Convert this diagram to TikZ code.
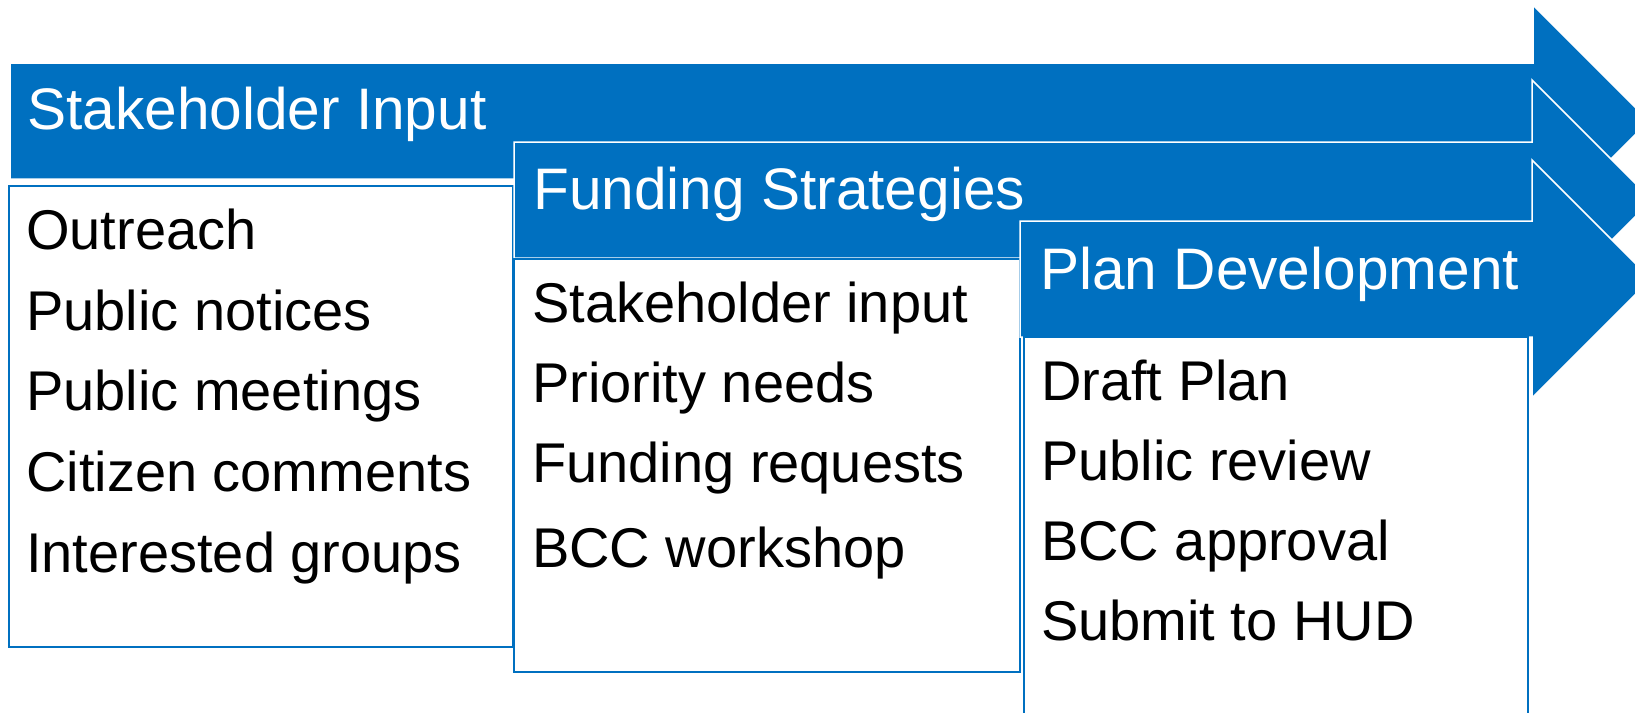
\documentclass[tikz,border=0pt]{standalone}
\usepackage{fontspec}
\setmainfont{Liberation Sans}
\definecolor{pblue}{RGB}{0,112,192}
\tikzset{
  arrowshape/.style={fill=pblue, draw=white, line width=1.5},
  bodybox/.style={fill=white, draw=pblue, line width=2},
  titletext/.style={anchor=base west, inner sep=0, text=white, font=\fontsize{58.6}{70}\selectfont},
  bodytext/.style={anchor=base west, inner sep=0, text=black, font=\fontsize{56}{66}\selectfont}
}
\begin{document}
\begin{tikzpicture}[x=1pt,y=-1pt]
\useasboundingbox (0,0) rectangle (1635,712);
\clip (0,0) rectangle (1635,712);
% stage 1
\draw[arrowshape] (10,63) -- (1533,63) -- (1533,5) -- (1649,121) -- (1533,237) -- (1533,179) -- (10,179) -- cycle;
\draw[bodybox] (9,186) rectangle (513,647);
\node[titletext] (t1) at (27,129) {Stakeholder Input};
\node[bodytext] (a1) at (26,249) {Outreach};
\node[bodytext] (a2) at (26,330) {Public notices};
\node[bodytext] (a3) at (26,410) {Public meetings};
\node[bodytext] (a4) at (26,491) {Citizen comments};
\node[bodytext] (a5) at (26,572) {Interested groups};
% stage 2
\draw[arrowshape] (514,142) -- (1532,142) -- (1532,80) -- (1652,200) -- (1532,320) -- (1532,258) -- (514,258) -- cycle;
\draw[bodybox] (514,259) rectangle (1020,672);
\node[titletext] (t2) at (533,209) {Funding Strategies};
\node[bodytext] (b1) at (532,322) {Stakeholder input};
\node[bodytext] (b2) at (532,402) {Priority needs};
\node[bodytext] (b3) at (532,482) {Funding requests};
\node[bodytext] (b4) at (532,567) {BCC workshop};
% stage 3
\draw[arrowshape] (1020,221) -- (1532,221) -- (1532,160) -- (1651,279) -- (1532,398) -- (1532,337) -- (1020,337) -- cycle;
\draw[bodybox] (1024,337) rectangle (1528,740);
\node[titletext] (t3) at (1040,289) {Plan Development};
\node[bodytext] (c1) at (1041,400) {Draft Plan};
\node[bodytext] (c2) at (1041,480) {Public review};
\node[bodytext] (c3) at (1041,560) {BCC approval};
\node[bodytext] (c4) at (1041,640) {Submit to HUD};
\end{tikzpicture}
\end{document}
